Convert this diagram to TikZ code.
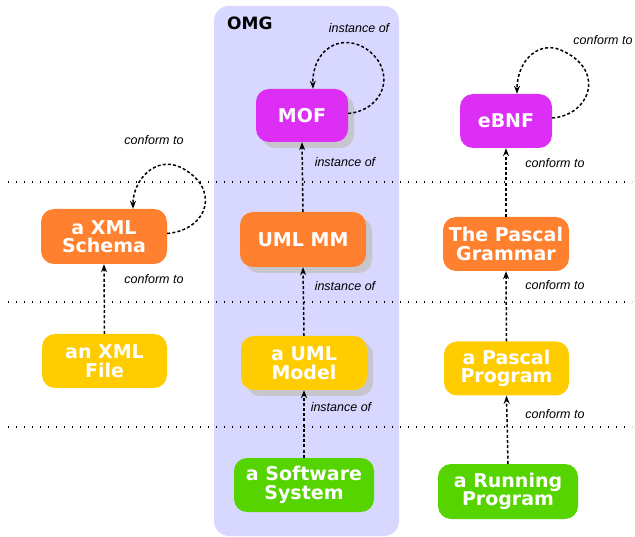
\documentclass[tikz,border=0pt]{standalone}
\usepackage{fontspec}
\setmainfont{DejaVu Sans}
\newfontfamily\labfont{Liberation Sans}
\usetikzlibrary{arrows.meta,calc,shadows}
\definecolor{omgbg}{HTML}{D7D7FF}
\definecolor{magc}{HTML}{DD2EF6}
\definecolor{orgc}{HTML}{FF802E}
\definecolor{yelc}{HTML}{FFCC00}
\definecolor{grnc}{HTML}{55D400}
\definecolor{shdc}{HTML}{C6C6CC}
\begin{document}
\begin{tikzpicture}[x=1pt,y=-1pt,
  box/.style={rounded corners=13pt, text=white, font=\bfseries\fontsize{19}{18.5}\selectfont,
    align=center, inner sep=0pt, minimum width=126pt, minimum height=54pt},
  shad/.style={drop shadow={shadow xshift=6pt, shadow yshift=-6pt, fill=shdc, opacity=1}},
  lbl/.style={font=\labfont\itshape\fontsize{12.5}{14}\selectfont, inner sep=0pt},
  conn/.style={line width=1.5pt, dash pattern=on 3pt off 2.2pt, -{Stealth[length=8pt,width=6pt]}},
  sep/.style={line width=1.3pt, dash pattern=on 1.3pt off 6.7pt}]
\useasboundingbox (0,0) rectangle (635,537);
% OMG region
\fill[omgbg, rounded corners=15pt] (214,6) rectangle (399,536);
\node[font=\bfseries\fontsize{17}{18}\selectfont, anchor=west, inner sep=0pt] (omg) at (227,23) {OMG};
% separators
\foreach \y [count=\i] in {182,302,427}{
  \coordinate (s\i a) at (8,\y);
  \coordinate (s\i b) at (632,\y);
  \draw[sep] (s\i a) -- (s\i b);
}
% nodes
\node[box, shad, fill=magc, minimum width=92pt, minimum height=53pt] (mof) at (302,115.5) {MOF};
\node[box, fill=magc, minimum width=92pt, minimum height=54pt] (ebnf) at (506,121) {eBNF};
\node[box, fill=orgc, minimum height=55pt] (xs) at (104,236.5) {a XML\\Schema};
\node[box, shad, fill=orgc, minimum height=55pt] (umm) at (303,239.5) {UML MM};
\node[box, fill=orgc] (pg) at (506,244) {The Pascal\\Grammar};
\node[box, fill=yelc, minimum width=125pt] (xf) at (104.5,361) {an XML\\File};
\node[box, shad, fill=yelc] (um) at (304,363) {a UML\\Model};
\node[box, fill=yelc, minimum width=125pt] (pp) at (506.5,368.5) {a Pascal\\Program};
\node[box, fill=grnc, minimum width=140pt] (ss) at (304,485) {a Software\\System};
\node[box, fill=grnc, minimum width=140pt, minimum height=55pt] (rp) at (508,491.5) {a Running\\Program};
% vertical connectors
\draw[conn] (umm.north) -- (mof.south);
\draw[conn] (um.north) -- (umm.south);
\draw[conn] (ss.north) -- (um.south);
\draw[conn] (xf.north) -- (xs.south);
\draw[conn] (pg.north) -- (ebnf.south);
\draw[conn] (pp.north) -- (pg.south);
\draw[conn] (rp.north) -- (pp.south);
% loops
\draw[conn] ($(mof.east)+(0,-2)$) .. controls (385,110) and (398,70) .. (365,48)
  .. controls (340,33) and (312,50) .. ($(mof.north)+(11,0)$);
\draw[conn] ($(ebnf.east)+(0,-3)$) .. controls (590,115) and (605,72) .. (565,52)
  .. controls (540,38) and (517,60) .. ($(ebnf.north)+(11,0)$);
\draw[conn] ($(xs.east)+(0,-3)$) .. controls (208,230) and (222,188) .. (180,167)
  .. controls (155,156) and (133,180) .. ($(xs.north)+(29,0)$);
% labels
\node[lbl] (t1) at (359,28) {instance of};
\node[lbl] (t2) at (345,162) {instance of};
\node[lbl] (t3) at (345,286) {instance of};
\node[lbl] (t4) at (341,407) {instance of};
\node[lbl] (t5) at (154,140) {conform to};
\node[lbl] (t6) at (154,279) {conform to};
\node[lbl] (t7) at (603,40) {conform to};
\node[lbl] (t8) at (555,163) {conform to};
\node[lbl] (t9) at (555,285) {conform to};
\node[lbl] (t10) at (555,414) {conform to};
\end{tikzpicture}
\end{document}
